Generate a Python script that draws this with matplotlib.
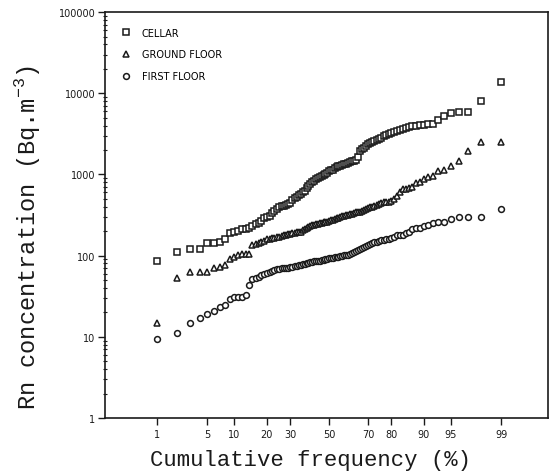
import matplotlib.pyplot as plt
import numpy as np
from statistics import NormalDist

# cumulative frequency (%) of each ranked sample
cum_freq = list(range(1, 100))

# Rn concentration (Bq/m3)
cellar = [87, 112, 119, 119, 145, 145, 148, 158, 192, 197,
          203, 210, 215, 220, 233, 247, 255, 270, 287, 302,
          312, 331, 350, 370, 392, 403, 414, 426, 438, 451,
          478, 506, 520, 551, 582, 600, 634, 672, 711, 753,
          797, 820, 867, 893, 918, 945, 972, 1000, 1029, 1090,
          1120, 1150, 1190, 1220, 1256, 1256, 1290, 1330, 1330, 1370,
          1410, 1450, 1450, 1490, 1620, 1925, 2040, 2100, 2220, 2345,
          2410, 2480, 2550, 2630, 2705, 2780, 2945, 3030, 3120, 3210,
          3300, 3400, 3500, 3600, 3700, 3800, 3900, 3900, 4030, 4030,
          4140, 4140, 4640, 5200, 5660, 5840, 5840, 7950, 13700]

ground_floor = [15, 53, 62, 62, 62, 71, 73, 77, 92, 97,
                103, 106, 106, 106, 137, 140, 144, 149, 152, 158,
                161, 164, 167, 170, 172, 175, 178, 181, 184, 187,
                189, 191, 194, 196, 198, 205, 212, 218, 225, 230,
                236, 241, 245, 248, 251, 254, 257, 260, 263, 268,
                273, 278, 283, 288, 293, 298, 304, 310, 315, 321,
                326, 330, 335, 340, 345, 349, 358, 368, 378, 388,
                394, 398, 403, 420, 435, 445, 452, 458, 464, 475,
                500, 535, 600, 653, 670, 690, 710, 775, 817, 867,
                918, 945, 1090, 1150, 1256, 1450, 1925, 2480, 2480]

first_floor = [9.4, 11.2, 15, 17, 19, 21, 23, 25, 29, 31,
               31, 31, 33, 43, 51, 53, 55, 57, 59, 61,
               63, 65, 67, 68, 69, 70, 70, 71, 71, 72,
               73, 74, 75, 76, 77, 78, 79, 80, 82, 83,
               84, 85, 86, 86, 87, 88, 89, 90, 92, 93,
               94, 94, 95, 96, 97, 99, 100, 101, 102, 103,
               105, 108, 111, 114, 117, 120, 123, 126, 130, 134,
               138, 142, 146, 149, 152, 155, 157, 158, 162, 167,
               172, 177, 180, 182, 190, 198, 215, 220, 220, 234,
               240, 255, 262, 262, 286, 295, 303, 303, 380]

series_names = ["CELLAR", "GROUND FLOOR", "FIRST FLOOR"]
xtick_values = [1, 5, 10, 20, 30, 50, 70, 80, 90, 95, 99]
ytick_values = [1, 10, 100, 1000, 10000, 100000]

# probability (normal) scale for the x axis
probit = np.vectorize(lambda p: NormalDist().inv_cdf(p / 100.0))

plt.rcParams['mathtext.fontset'] = 'custom'
plt.rcParams['mathtext.rm'] = 'Liberation Mono'
ink = "#1a1a1a"

fig = plt.figure(figsize=(5.53, 4.77), dpi=100)
ax = fig.add_axes([0.19, 0.1216, 0.801, 0.851])

x = probit(cum_freq)
markers = ["s", "^", "o"]
for vals, name, m in zip([cellar, ground_floor, first_floor], series_names, markers):
    ax.plot(x, vals, linestyle="none", marker=m, markersize=4.2,
            markerfacecolor="white", markeredgecolor=ink, markeredgewidth=1.1,
            label=name)

ax.set_yscale("log")
ax.set_ylim(1, 100000)
ax.set_xlim(-3.03, 2.96)

ax.set_xticks(probit(xtick_values))
ax.set_xticklabels([str(v) for v in xtick_values], fontsize=7, color=ink)
ax.set_yticks(ytick_values)
ax.set_yticklabels([str(v) for v in ytick_values], fontsize=7, color=ink)
ax.tick_params(axis="x", which="major", direction="out", length=5, width=1, colors=ink, pad=3)
ax.tick_params(axis="y", which="major", direction="out", length=5, width=1, colors=ink, pad=2)
ax.tick_params(axis="y", which="minor", direction="inout", length=3, width=0.8, colors=ink)
ax.tick_params(axis="x", which="minor", bottom=False)

for s in ax.spines.values():
    s.set_color(ink)
    s.set_linewidth(1.2)

ax.set_xlabel("Cumulative frequency (%)", fontsize=16, family="Liberation Mono", color=ink)
ax.set_ylabel(r"Rn concentration (Bq.m$^{-3}$)", fontsize=17, family="Liberation Mono", color=ink)
ax.xaxis.set_label_coords(0.463, -0.077)
ax.yaxis.set_label_coords(-0.142, 0.448)

ax.legend(loc="upper left", frameon=False, fontsize=7, handletextpad=1.1,
          labelspacing=1.2, borderaxespad=0.8, handlelength=1.0,
          bbox_to_anchor=(0.01, 0.99))

fig.savefig("out.png", dpi=100)
